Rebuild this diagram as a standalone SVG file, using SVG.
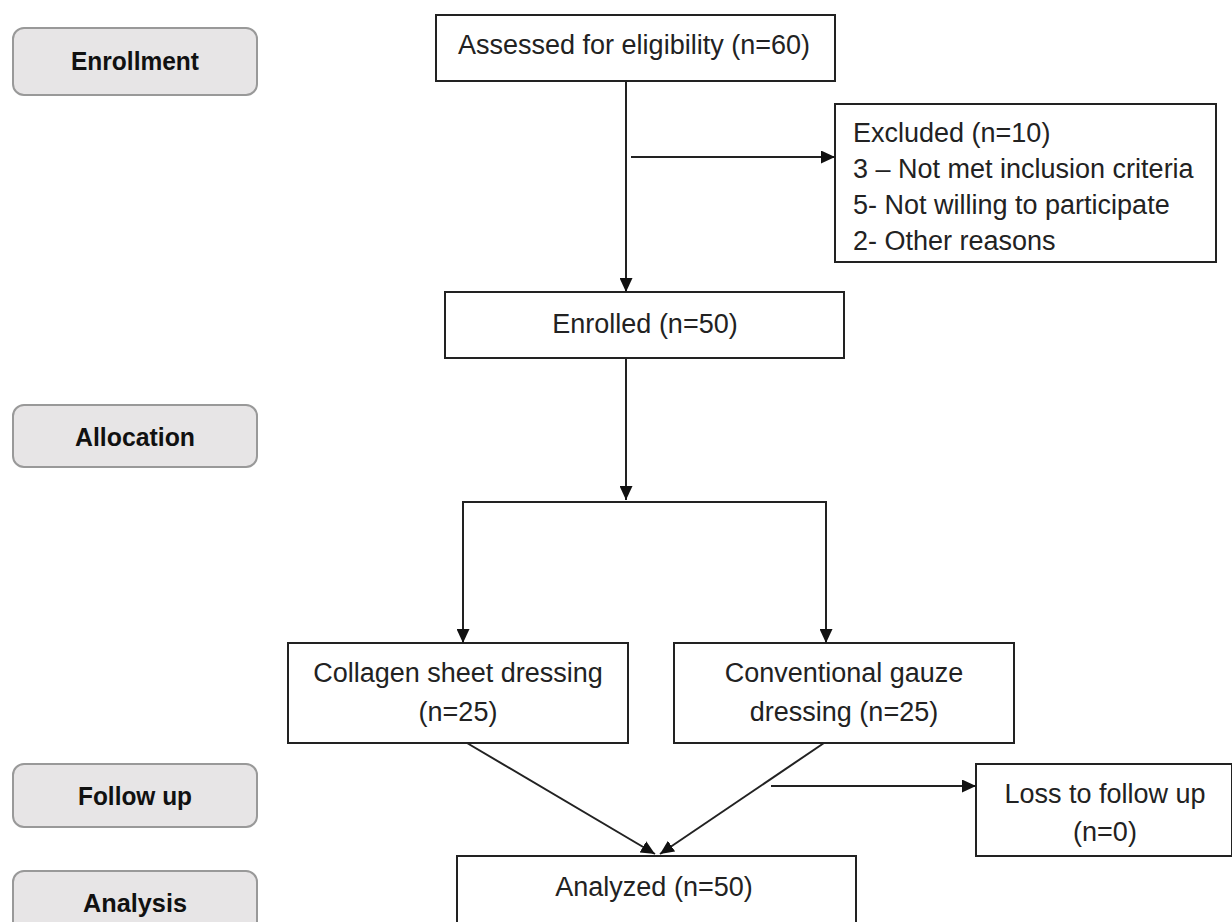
<svg xmlns="http://www.w3.org/2000/svg" width="1232" height="922" viewBox="0 0 1232 922">
<defs>
<marker id="ah" markerUnits="userSpaceOnUse" markerWidth="15" markerHeight="13" refX="14" refY="6.5" orient="auto">
<path d="M0,0 L14,6.5 L0,13 z" fill="#111"/>
</marker>
<style>
.stage rect{fill:#e7e5e6;stroke:#999;stroke-width:2}
.stage text{font-family:"Liberation Sans",Arial,sans-serif;font-weight:bold;font-size:25px;fill:#111;text-anchor:middle}
.box rect{fill:#fff;stroke:#222;stroke-width:2}
.box text{font-family:"Liberation Sans",Arial,sans-serif;font-size:27px;fill:#222;text-anchor:middle}
.box text.left{text-anchor:start}
.conn line{stroke:#222;stroke-width:2;fill:none}
.conn polyline{stroke:#222;stroke-width:2;fill:none}
</style>
</defs>
<rect width="1232" height="922" fill="#fff"/>

<g id="stage-enrollment" class="stage">
<rect x="13" y="28" width="244" height="67" rx="11"/>
<text x="135" y="70" textLength="128" lengthAdjust="spacingAndGlyphs">Enrollment</text>
</g>
<g id="stage-allocation" class="stage">
<rect x="13" y="405" width="244" height="62" rx="11"/>
<text x="135" y="446" textLength="120" lengthAdjust="spacingAndGlyphs">Allocation</text>
</g>
<g id="stage-followup" class="stage">
<rect x="13" y="764" width="244" height="63" rx="11"/>
<text x="135" y="805" textLength="114" lengthAdjust="spacingAndGlyphs">Follow up</text>
</g>
<g id="stage-analysis" class="stage">
<rect x="13" y="871" width="244" height="70" rx="11"/>
<text x="135" y="912" textLength="104" lengthAdjust="spacingAndGlyphs">Analysis</text>
</g>

<g id="assessed" class="box">
<rect x="436" y="15" width="399" height="66"/>
<text x="634" y="54">Assessed for eligibility (n=60)</text>
</g>
<g id="excluded" class="box">
<rect x="835" y="104" width="381" height="158"/>
<text class="left" x="853" y="142">Excluded (n=10)</text>
<text class="left" x="853" y="178">3 – Not met inclusion criteria</text>
<text class="left" x="853" y="214">5- Not willing to participate</text>
<text class="left" x="853" y="250">2- Other reasons</text>
</g>
<g id="enrolled" class="box">
<rect x="445" y="292" width="399" height="66"/>
<text x="645" y="333">Enrolled (n=50)</text>
</g>
<g id="collagen" class="box">
<rect x="288" y="643" width="340" height="100"/>
<text x="458" y="682">Collagen sheet dressing</text>
<text x="458" y="721">(n=25)</text>
</g>
<g id="conventional" class="box">
<rect x="674" y="643" width="340" height="100"/>
<text x="844" y="682">Conventional gauze</text>
<text x="844" y="721">dressing (n=25)</text>
</g>
<g id="loss" class="box">
<rect x="976" y="764" width="256" height="92"/>
<text x="1105" y="803">Loss to follow up</text>
<text x="1105" y="841">(n=0)</text>
</g>
<g id="analyzed" class="box">
<rect x="457" y="856" width="399" height="80"/>
<text x="654" y="896">Analyzed (n=50)</text>
</g>

<g id="connectors" class="conn">
<line x1="626" y1="81" x2="626" y2="292" marker-end="url(#ah)"/>
<line x1="631" y1="157" x2="835" y2="157" marker-end="url(#ah)"/>
<line x1="626" y1="358" x2="626" y2="500" marker-end="url(#ah)"/>
<polyline points="463,643 463,502 826,502 826,643"/>
<line x1="463" y1="600" x2="463" y2="643" marker-end="url(#ah)"/>
<line x1="826" y1="600" x2="826" y2="643" marker-end="url(#ah)"/>
<line x1="467" y1="743" x2="655" y2="854" marker-end="url(#ah)"/>
<line x1="824" y1="743" x2="660" y2="854" marker-end="url(#ah)"/>
<line x1="771" y1="786" x2="976" y2="786" marker-end="url(#ah)"/>
</g>
</svg>
